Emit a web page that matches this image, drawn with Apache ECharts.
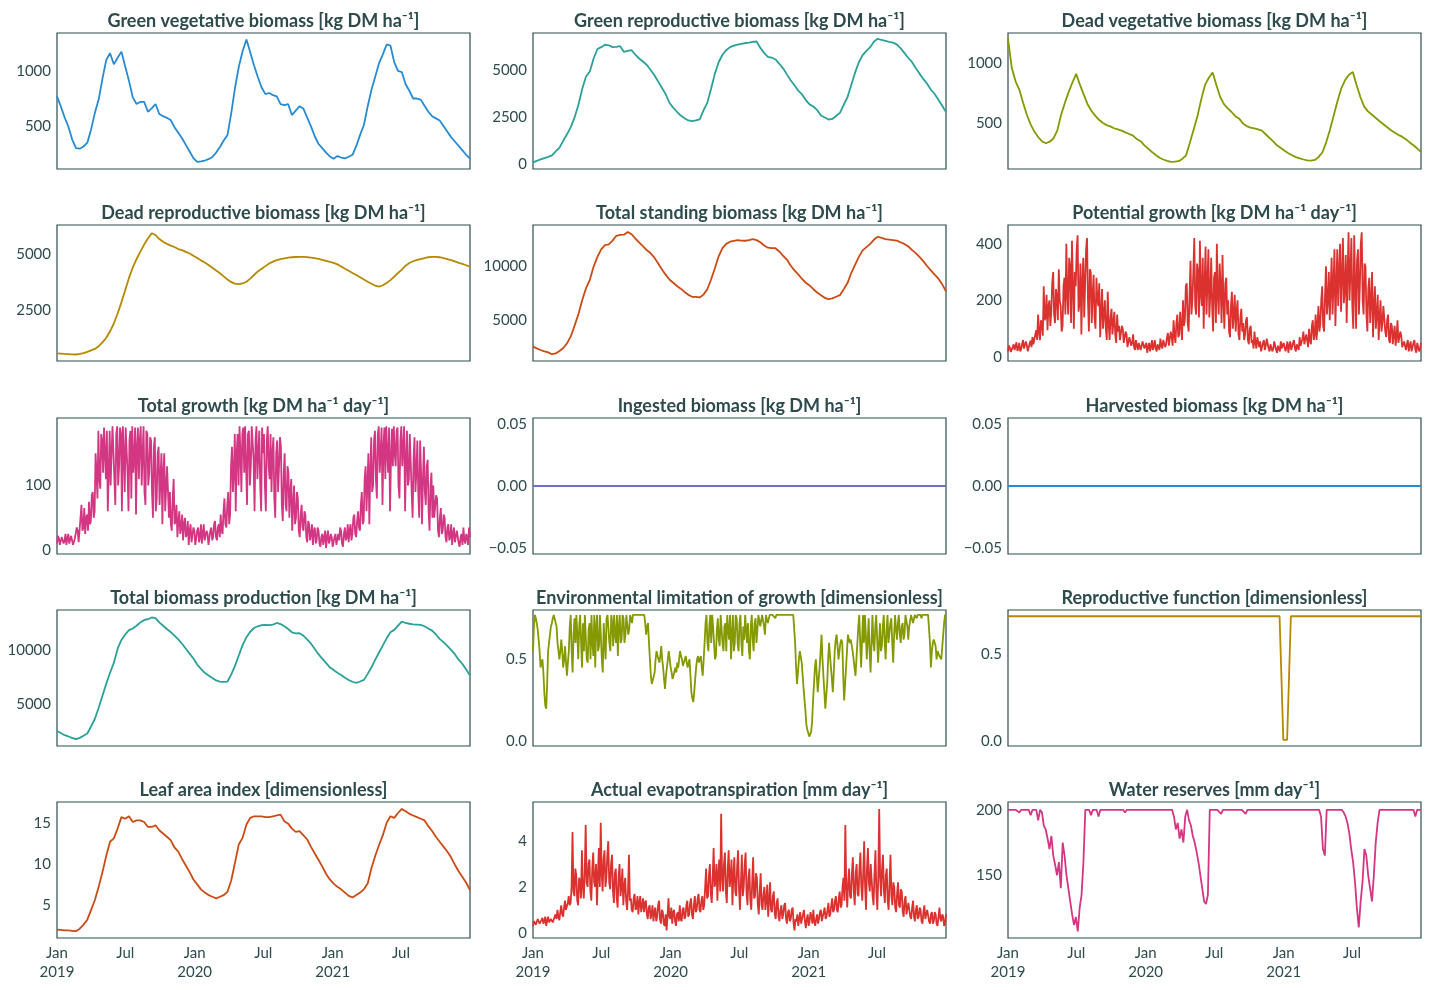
<!DOCTYPE html>
<html>
<head>
<meta charset="utf-8">
<title>Grassland model outputs 2019-2021</title>
<script src="https://cdn.jsdelivr.net/npm/echarts@6/dist/echarts.min.js"></script>
<style>
  html, body { margin: 0; padding: 0; background: #fff; }
  #chart { width: 1430px; height: 990px; }
</style>
</head>
<body>
<div id="chart"></div>
<script>
// daily model output at roughly 10-day (smooth), 5-day or 2.5-day (noisy) steps
// every array runs from 2019-01-01 to 2021-12-31, evenly spaced
var greenVeg = [
  770, 680, 580, 495, 380, 300, 295, 315, 350, 470,
  620, 740, 930, 1100, 1160, 1060, 1120, 1175, 1040, 910,
  760, 700, 720, 720, 630, 660, 700, 610, 590, 575,
  555, 490, 440, 390, 330, 270, 210, 175, 180, 188,
  200, 220, 260, 310, 370, 420, 620, 850, 1040, 1180,
  1285, 1170, 1050, 945, 850, 790, 800, 780, 770, 700,
  690, 700, 600, 640, 680, 660, 580, 500, 410, 340,
  300, 260, 225, 205, 228, 215, 207, 222, 240, 320,
  420, 510, 680, 830, 950, 1070, 1150, 1240, 1230, 1080,
  1000, 990, 880, 820, 750, 750, 740, 685, 630, 590,
  570, 550, 500, 450, 400, 360, 320, 280, 240, 205
];
var greenRepro = [
  100, 180, 260, 330, 390, 470, 680, 880, 1250, 1600,
  1980, 2500, 3150, 4000, 4650, 4910, 5600, 6100, 6200, 6330,
  6300, 6200, 6220, 6250, 5950, 6000, 6040, 5800, 5600, 5440,
  5270, 5000, 4730, 4400, 4050, 3720, 3260, 3000, 2780, 2580,
  2440, 2320, 2290, 2330, 2380, 2850, 3250, 4000, 4800, 5400,
  5800, 6040, 6200, 6280, 6340, 6370, 6420, 6440, 6480, 6500,
  6160, 5900, 5680, 5650, 5550, 5320, 5080, 4760, 4450, 4180,
  3900, 3700, 3400, 3170, 3060, 2870, 2580, 2480, 2370, 2400,
  2560, 2720, 3150, 3550, 4200, 4850, 5400, 5780, 6000, 6200,
  6500, 6640, 6580, 6530, 6480, 6440, 6350, 6150, 5900, 5640,
  5420, 5100, 4800, 4520, 4260, 3960, 3720, 3420, 3100, 2760
];
var deadVeg = [
  1206, 960, 850, 780, 670, 570, 490, 430, 385, 350,
  335, 348, 375, 440, 570, 670, 760, 840, 912, 820,
  740, 660, 605, 565, 530, 505, 486, 475, 460, 450,
  440, 425, 412, 398, 370, 352, 318, 290, 262, 238,
  215, 200, 188, 181, 182, 186, 205, 235, 340, 450,
  560, 700, 820, 880, 923, 820, 720, 660, 625, 595,
  560, 540, 500, 478, 465, 458, 450, 440, 410, 380,
  350, 318, 295, 272, 252, 235, 220, 210, 200, 192,
  190, 196, 222, 260, 345, 450, 570, 690, 794, 862,
  905, 928, 820, 720, 640, 600, 574, 547, 520, 495,
  470, 445, 425, 405, 390, 368, 342, 318, 292, 262
];
var deadRepro = [
  560, 545, 530, 520, 510, 505, 530, 570, 620, 690,
  755, 880, 1050, 1260, 1550, 1900, 2350, 2850, 3400, 3950,
  4420, 4800, 5130, 5450, 5720, 5960, 5880, 5700, 5580, 5480,
  5400, 5340, 5250, 5200, 5120, 5050, 4950, 4850, 4740, 4640,
  4530, 4410, 4280, 4160, 4020, 3880, 3760, 3690, 3670, 3700,
  3780, 3920, 4080, 4240, 4360, 4480, 4600, 4680, 4750, 4800,
  4830, 4860, 4880, 4890, 4896, 4895, 4885, 4865, 4840, 4810,
  4760, 4720, 4670, 4630, 4560, 4460, 4360, 4270, 4170, 4080,
  3980, 3880, 3780, 3690, 3600, 3560, 3620, 3720, 3850, 4010,
  4170, 4320, 4500, 4620, 4700, 4760, 4800, 4840, 4880, 4896,
  4895, 4880, 4840, 4800, 4750, 4690, 4630, 4580, 4520, 4460
];
var totalStanding = [
  2580, 2420, 2270, 2150, 2050, 1880, 1950, 2170, 2450, 2900,
  3550, 4550, 5600, 6900, 8000, 8770, 10000, 10900, 11600, 11990,
  12050, 12400, 12850, 12930, 12950, 13200, 13000, 12600, 12250, 11900,
  11530, 11250, 10850, 10300, 9750, 9250, 8800, 8500, 8200, 7950,
  7650, 7380, 7200, 7200, 7140, 7400, 7900, 8800, 9850, 10950,
  11700, 12100, 12300, 12380, 12450, 12400, 12390, 12450, 12550, 12450,
  12250, 11950, 11750, 11700, 11700, 11400, 11000, 10650, 10100, 9650,
  9270, 8850, 8500, 8250, 7900, 7600, 7350, 7100, 6990, 7050,
  7200, 7350, 7900, 8470, 9400, 10150, 10900, 11500, 11800, 12100,
  12500, 12760, 12650, 12550, 12500, 12450, 12400, 12250, 12100, 11880,
  11550, 11250, 10900, 10500, 10050, 9650, 9250, 8880, 8350, 7700
];
var potentialGrowth = [
  20, 40, 32, 18, 15, 35, 45, 25, 38, 52, 22, 30, 50, 20, 28, 45, 60, 30, 35, 55,
  42, 20, 25, 48, 58, 35, 70, 45, 40, 80, 95, 60, 150, 90, 60, 130, 120, 75, 250, 130,
  140, 220, 95, 180, 200, 110, 160, 260, 300, 150, 120, 240, 210, 130, 310, 200, 180, 90, 110, 250,
  280, 150, 400, 220, 150, 350, 320, 120, 410, 250, 100, 300, 250, 380, 430, 160, 190, 330, 80, 260,
  350, 140, 260, 380, 420, 200, 90, 310, 300, 120, 220, 290, 140, 100, 280, 200, 180, 260, 70, 160,
  240, 100, 150, 200, 100, 60, 230, 120, 60, 140, 170, 80, 120, 160, 80, 50, 150, 90, 110, 60,
  60, 110, 100, 50, 45, 90, 80, 35, 30, 70, 65, 40, 50, 80, 35, 25, 60, 40, 25, 50,
  45, 25, 20, 55, 55, 30, 30, 50, 15, 35, 50, 20, 35, 60, 25, 40, 60, 30, 20, 45,
  40, 25, 65, 40, 30, 60, 55, 35, 45, 70, 85, 40, 35, 90, 70, 40, 130, 75, 50, 120,
  150, 70, 80, 160, 110, 60, 200, 110, 130, 250, 260, 120, 90, 220, 340, 150, 200, 300, 420, 180,
  150, 330, 300, 140, 410, 220, 180, 350, 100, 260, 390, 150, 260, 380, 140, 220, 350, 180, 90, 280,
  300, 120, 400, 220, 150, 330, 250, 120, 360, 200, 100, 260, 280, 150, 200, 90, 70, 180, 230, 100,
  150, 220, 90, 160, 200, 80, 60, 140, 170, 90, 120, 60, 80, 130, 140, 60, 45, 100, 110, 50,
  60, 30, 90, 50, 30, 70, 75, 35, 55, 20, 25, 50, 60, 25, 40, 65, 70, 30, 20, 45,
  45, 20, 30, 55, 60, 25, 15, 40, 40, 20, 55, 30, 25, 50, 50, 20, 35, 55, 15, 40,
  55, 25, 30, 50, 60, 30, 20, 45, 45, 25, 70, 40, 35, 65, 90, 45, 50, 80, 60, 35,
  100, 60, 45, 110, 130, 60, 80, 150, 60, 110, 180, 90, 120, 200, 250, 110, 90, 220, 320, 150,
  200, 300, 130, 240, 350, 150, 260, 380, 110, 250, 380, 180, 300, 400, 160, 280, 420, 190, 240, 360,
  120, 300, 440, 200, 300, 420, 180, 100, 430, 260, 100, 340, 380, 150, 250, 400, 440, 200, 150, 330,
  320, 150, 90, 240, 280, 120, 200, 300, 70, 180, 250, 100, 150, 220, 60, 140, 200, 90, 120, 180,
  180, 90, 70, 130, 150, 60, 50, 120, 110, 45, 80, 110, 40, 70, 130, 50, 55, 90, 75, 35,
  30, 55, 60, 25, 45, 60, 20, 40, 55, 20, 35, 50, 60, 25, 15, 50, 45, 20, 30, 50
];
var totalGrowth = [
  10, 22, 18, 8, 6, 20, 22, 10, 14, 25, 8, 18, 25, 10, 12, 22, 20, 8, 6, 18,
  15, 35, 30, 12, 12, 50, 70, 30, 35, 65, 25, 50, 55, 30, 75, 40, 45, 85, 90, 50,
  60, 150, 120, 80, 185, 110, 95, 180, 170, 120, 190, 150, 110, 185, 60, 120, 185, 100, 150, 192,
  190, 110, 70, 180, 192, 100, 130, 190, 180, 60, 192, 150, 90, 190, 192, 120, 60, 170, 185, 80,
  192, 120, 140, 190, 55, 160, 190, 110, 170, 192, 100, 150, 192, 90, 70, 185, 180, 100, 120, 175,
  170, 90, 50, 160, 175, 60, 80, 150, 160, 70, 110, 150, 40, 120, 150, 60, 60, 130, 130, 50,
  90, 40, 30, 80, 110, 40, 45, 70, 20, 45, 60, 25, 35, 55, 15, 40, 50, 20, 25, 45,
  8, 30, 40, 12, 15, 35, 30, 8, 5, 30, 35, 12, 20, 40, 10, 25, 40, 15, 12, 30,
  25, 8, 10, 30, 35, 15, 20, 40, 45, 20, 15, 35, 40, 20, 55, 30, 25, 60, 80, 40,
  35, 70, 90, 40, 55, 130, 160, 90, 120, 180, 60, 150, 180, 100, 192, 150, 90, 180, 190, 120,
  192, 130, 70, 180, 185, 100, 130, 192, 192, 140, 60, 170, 192, 110, 150, 185, 100, 60, 190, 150,
  180, 100, 60, 170, 192, 130, 110, 180, 90, 150, 175, 80, 50, 150, 170, 90, 130, 175, 160, 70,
  45, 120, 150, 70, 60, 130, 120, 50, 90, 110, 30, 70, 100, 40, 50, 90, 80, 30, 20, 55,
  70, 35, 30, 60, 55, 20, 12, 45, 40, 15, 25, 40, 8, 30, 35, 10, 15, 35, 30, 10,
  5, 20, 25, 8, 10, 30, 3, 20, 30, 10, 15, 25, 20, 5, 2, 20, 25, 8, 8, 25,
  15, 35, 30, 10, 5, 25, 35, 15, 20, 40, 12, 30, 40, 15, 25, 50, 55, 25, 20, 45,
  60, 35, 30, 70, 90, 40, 45, 110, 130, 60, 60, 150, 40, 120, 175, 90, 100, 170, 185, 110,
  80, 180, 192, 120, 150, 190, 70, 160, 190, 110, 192, 150, 120, 190, 60, 140, 188, 130, 192, 150,
  130, 185, 190, 100, 80, 170, 192, 130, 160, 192, 60, 140, 185, 100, 110, 180, 180, 90, 50, 140,
  175, 90, 120, 170, 90, 50, 170, 120, 40, 110, 160, 90, 70, 130, 140, 60, 30, 100, 120, 50,
  100, 50, 50, 85, 80, 30, 20, 50, 65, 25, 30, 55, 50, 20, 12, 35, 40, 15, 20, 40,
  8, 25, 35, 12, 12, 30, 30, 10, 5, 20, 25, 8, 35, 15, 10, 25, 20, 8, 35, 20
];
var ingested = [0, 0, 0, 0, 0, 0, 0, 0, 0, 0, 0, 0, 0];
var harvested = [0, 0, 0, 0, 0, 0, 0, 0, 0, 0, 0, 0, 0];
var totalProduction = [
  2580, 2400, 2200, 2080, 1950, 1830, 1950, 2150, 2350, 3000,
  3700, 4700, 5800, 6900, 7900, 8800, 10100, 10900, 11400, 11800,
  11950, 12200, 12500, 12730, 12790, 12950, 12900, 12500, 12200, 11900,
  11620, 11300, 10950, 10550, 10100, 9650, 9200, 8650, 8250, 7900,
  7650, 7420, 7200, 7100, 7060, 7100, 7750, 8550, 9500, 10450,
  11150, 11650, 11990, 12150, 12250, 12270, 12250, 12300, 12450, 12350,
  12150, 11900, 11600, 11500, 11520, 11300, 10950, 10580, 10100, 9600,
  9200, 8800, 8400, 8150, 7900, 7700, 7450, 7230, 7080, 6970,
  7100, 7250, 7800, 8400, 9100, 9750, 10400, 11050, 11600, 11820,
  12200, 12580, 12450, 12380, 12320, 12300, 12280, 12150, 11950, 11750,
  11400, 11000, 10700, 10350, 10000, 9600, 9100, 8700, 8200, 7650
];
var envLimitation = [
  0.55, 0.7, 0.77, 0.75, 0.72, 0.68, 0.62, 0.55, 0.45, 0.48, 0.5, 0.42, 0.3, 0.22, 0.2, 0.35, 0.55, 0.6, 0.65, 0.7,
  0.72, 0.75, 0.77, 0.77, 0.77, 0.7, 0.6, 0.55, 0.5, 0.55, 0.62, 0.55, 0.45, 0.5, 0.58, 0.48, 0.4, 0.48, 0.55, 0.7,
  0.77, 0.55, 0.42, 0.65, 0.75, 0.6, 0.77, 0.65, 0.5, 0.7, 0.77, 0.6, 0.45, 0.72, 0.55, 0.77, 0.77, 0.5, 0.48, 0.68,
  0.72, 0.5, 0.77, 0.6, 0.52, 0.77, 0.45, 0.7, 0.77, 0.55, 0.58, 0.77, 0.77, 0.5, 0.42, 0.72, 0.6, 0.5, 0.75, 0.77,
  0.77, 0.6, 0.55, 0.77, 0.72, 0.58, 0.77, 0.65, 0.6, 0.77, 0.52, 0.7, 0.77, 0.6, 0.62, 0.77, 0.75, 0.6, 0.65, 0.77,
  0.77, 0.65, 0.68, 0.77, 0.77, 0.72, 0.77, 0.77, 0.77, 0.77, 0.77, 0.77, 0.77, 0.77, 0.77, 0.77, 0.77, 0.77, 0.77, 0.72,
  0.65, 0.7, 0.72, 0.6, 0.5, 0.4, 0.35, 0.36, 0.35, 0.42, 0.5, 0.55, 0.55, 0.5, 0.48, 0.52, 0.58, 0.5, 0.45, 0.38,
  0.32, 0.4, 0.45, 0.5, 0.55, 0.5, 0.45, 0.42, 0.38, 0.4, 0.4, 0.45, 0.42, 0.48, 0.45, 0.5, 0.55, 0.52, 0.5, 0.46,
  0.45, 0.5, 0.52, 0.48, 0.45, 0.48, 0.5, 0.4, 0.3, 0.26, 0.24, 0.3, 0.38, 0.45, 0.5, 0.52, 0.48, 0.5, 0.52, 0.45,
  0.4, 0.5, 0.6, 0.72, 0.77, 0.6, 0.55, 0.7, 0.77, 0.6, 0.77, 0.7, 0.6, 0.5, 0.52, 0.68, 0.75, 0.62, 0.58, 0.77,
  0.77, 0.6, 0.55, 0.7, 0.72, 0.55, 0.77, 0.68, 0.62, 0.77, 0.5, 0.65, 0.77, 0.55, 0.6, 0.77, 0.75, 0.6, 0.55, 0.72,
  0.77, 0.6, 0.52, 0.7, 0.62, 0.77, 0.77, 0.6, 0.72, 0.55, 0.5, 0.7, 0.77, 0.62, 0.55, 0.72, 0.75, 0.6, 0.68, 0.77,
  0.77, 0.7, 0.7, 0.77, 0.77, 0.7, 0.65, 0.77, 0.77, 0.72, 0.72, 0.77, 0.77, 0.77, 0.77, 0.77, 0.77, 0.75, 0.77, 0.77,
  0.77, 0.77, 0.77, 0.77, 0.77, 0.77, 0.77, 0.77, 0.77, 0.77, 0.77, 0.77, 0.77, 0.77, 0.77, 0.77, 0.77, 0.77, 0.6, 0.45,
  0.35, 0.42, 0.5, 0.55, 0.55, 0.48, 0.4, 0.32, 0.25, 0.18, 0.1, 0.07, 0.05, 0.03, 0.02, 0.06, 0.12, 0.25, 0.35, 0.45,
  0.5, 0.4, 0.3, 0.38, 0.45, 0.55, 0.65, 0.5, 0.4, 0.3, 0.2, 0.28, 0.35, 0.5, 0.6, 0.52, 0.45, 0.38, 0.3, 0.42,
  0.55, 0.62, 0.65, 0.58, 0.5, 0.55, 0.6, 0.62, 0.6, 0.4, 0.25, 0.35, 0.45, 0.55, 0.65, 0.62, 0.6, 0.62, 0.62, 0.55,
  0.5, 0.45, 0.4, 0.5, 0.6, 0.7, 0.77, 0.6, 0.45, 0.62, 0.77, 0.6, 0.77, 0.65, 0.5, 0.62, 0.75, 0.55, 0.42, 0.6,
  0.77, 0.6, 0.55, 0.7, 0.77, 0.62, 0.48, 0.6, 0.72, 0.55, 0.58, 0.7, 0.77, 0.6, 0.5, 0.68, 0.77, 0.6, 0.6, 0.72,
  0.75, 0.6, 0.48, 0.65, 0.77, 0.68, 0.62, 0.72, 0.77, 0.65, 0.6, 0.7, 0.72, 0.62, 0.65, 0.77, 0.77, 0.7, 0.62, 0.7,
  0.7, 0.77, 0.77, 0.72, 0.72, 0.77, 0.77, 0.75, 0.77, 0.77, 0.77, 0.77, 0.75, 0.77, 0.77, 0.77, 0.77, 0.77, 0.77, 0.77,
  0.77, 0.6, 0.45, 0.55, 0.6, 0.62, 0.62, 0.58, 0.5, 0.55, 0.55, 0.52, 0.52, 0.5, 0.5, 0.5, 0.72, 0.77, 0.77
];
var reproFunction = [
  0.72, 0.72, 0.72, 0.72, 0.72, 0.72, 0.72, 0.72, 0.72, 0.72,
  0.72, 0.72, 0.72, 0.72, 0.72, 0.72, 0.72, 0.72, 0.72, 0.72,
  0.72, 0.72, 0.72, 0.72, 0.72, 0.72, 0.72, 0.72, 0.72, 0.72,
  0.72, 0.72, 0.72, 0.72, 0.72, 0.72, 0.72, 0.72, 0.72, 0.72,
  0.72, 0.72, 0.72, 0.72, 0.72, 0.72, 0.72, 0.72, 0.72, 0.72,
  0.72, 0.72, 0.72, 0.72, 0.72, 0.72, 0.72, 0.72, 0.72, 0.72,
  0.72, 0.72, 0.72, 0.72, 0.72, 0.72, 0.72, 0.72, 0.72, 0.72,
  0.72, 0.72, 0.72, 0.72, 0.72, 0.72, 0.72, 0.72, 0.72, 0.72,
  0.72, 0.72, 0.72, 0.72, 0.72, 0.72, 0.72, 0.72, 0.72, 0.72,
  0.72, 0.72, 0.72, 0.72, 0.72, 0.72, 0.72, 0.72, 0.72, 0.72,
  0.72, 0.72, 0.72, 0.72, 0.72, 0.72, 0.72, 0.72, 0.72, 0.72,
  0.72, 0.72, 0.72, 0.72, 0.72, 0.72, 0.72, 0.72, 0.72, 0.72,
  0.72, 0.72, 0.72, 0.72, 0.72, 0.72, 0.72, 0.72, 0.72, 0.72,
  0.72, 0.72, 0.72, 0.72, 0.72, 0.72, 0.72, 0.72, 0.72, 0.72,
  0.72, 0.72, 0.72, 0.72, 0.72, 0.72, 0.01, 0.01, 0.01, 0.01,
  0.72, 0.72, 0.72, 0.72, 0.72, 0.72, 0.72, 0.72, 0.72, 0.72,
  0.72, 0.72, 0.72, 0.72, 0.72, 0.72, 0.72, 0.72, 0.72, 0.72,
  0.72, 0.72, 0.72, 0.72, 0.72, 0.72, 0.72, 0.72, 0.72, 0.72,
  0.72, 0.72, 0.72, 0.72, 0.72, 0.72, 0.72, 0.72, 0.72, 0.72,
  0.72, 0.72, 0.72, 0.72, 0.72, 0.72, 0.72, 0.72, 0.72, 0.72,
  0.72, 0.72, 0.72, 0.72, 0.72, 0.72, 0.72, 0.72, 0.72, 0.72,
  0.72, 0.72, 0.72, 0.72, 0.72, 0.72, 0.72, 0.72, 0.72, 0.72
];
var leafArea = [
  2.0, 1.95, 1.9, 1.9, 1.85, 1.8, 2.1, 2.6, 3.2, 4.4,
  5.6, 7.2, 9.0, 11.0, 12.7, 13.1, 14.3, 15.7, 15.5, 15.8,
  15.1, 15.3, 15.3, 15.1, 14.5, 14.5, 14.7, 14.1, 13.7, 13.3,
  12.9, 12.0, 11.5, 10.6, 9.8, 9.0, 8.1, 7.5, 6.9, 6.5,
  6.2, 6.0, 5.8, 6.0, 6.2, 6.6, 8.0, 10.2, 12.4, 13.2,
  14.8, 15.6, 15.8, 15.8, 15.8, 15.7, 15.7, 15.8, 15.9, 16.0,
  15.2, 14.9, 14.3, 13.9, 14.0, 13.5, 13.0, 12.1, 11.3, 10.5,
  9.7, 8.8, 8.1, 7.6, 7.2, 6.9, 6.5, 6.1, 5.9, 6.2,
  6.5, 6.9, 7.6, 9.5, 11.0, 12.3, 13.5, 15.0, 15.8, 15.6,
  16.2, 16.7, 16.4, 16.1, 15.9, 15.7, 15.5, 15.3, 14.6, 14.0,
  13.3, 12.7, 12.1, 11.5, 10.8, 9.9, 9.1, 8.4, 7.7, 6.8
];
var evapotranspiration = [
  0.3, 0.5, 0.55, 0.35, 0.4, 0.6, 0.6, 0.4, 0.35, 0.55, 0.65, 0.4, 0.5, 0.7, 0.3, 0.5, 0.7, 0.45, 0.45, 0.6,
  0.6, 0.45, 0.4, 0.7, 0.8, 0.6, 1.0, 0.7, 0.55, 0.9, 1.2, 0.8, 0.7, 1.1, 1.4, 1.0, 1.0, 1.3, 1.6, 1.2,
  1.3, 2.0, 4.4, 1.8, 1.6, 2.8, 2.5, 1.4, 1.2, 2.4, 2.2, 1.5, 3.6, 2.0, 1.5, 2.6, 4.7, 2.2, 2.0, 3.0,
  3.2, 1.8, 1.4, 2.8, 3.5, 2.2, 2.0, 3.0, 1.2, 2.5, 3.7, 2.0, 4.8, 2.6, 1.8, 3.2, 3.6, 2.0, 2.4, 3.4,
  4.0, 2.2, 1.9, 3.0, 3.4, 1.8, 1.3, 2.6, 2.8, 1.5, 1.1, 2.5, 3.0, 1.6, 2.0, 2.8, 1.2, 2.0, 2.4, 1.4,
  1.0, 1.8, 3.4, 1.4, 1.5, 1.0, 0.9, 1.5, 1.7, 1.0, 1.1, 1.6, 0.8, 1.3, 1.6, 0.9, 1.2, 1.5, 0.9, 1.3,
  1.4, 0.8, 0.6, 1.1, 1.2, 0.6, 0.8, 1.2, 0.5, 0.9, 1.1, 0.5, 0.7, 1.2, 1.4, 0.6, 0.4, 1.0, 0.9, 0.4,
  0.3, 0.8, 0.1, 0.7, 1.5, 0.7, 0.6, 1.1, 0.4, 0.9, 1.0, 0.5, 0.3, 0.8, 0.9, 0.5, 1.2, 0.6, 0.5, 1.0,
  1.1, 0.6, 0.7, 1.2, 1.4, 0.7, 0.8, 1.3, 1.5, 0.8, 0.6, 1.2, 1.6, 0.9, 1.0, 1.5, 1.7, 1.0, 0.9, 1.4,
  1.6, 1.0, 1.2, 2.0, 2.8, 1.5, 1.6, 2.5, 3.0, 1.7, 1.3, 2.4, 3.7, 2.0, 2.2, 3.0, 1.4, 2.6, 3.2, 1.8,
  5.2, 2.4, 1.8, 3.0, 3.5, 1.8, 1.3, 2.8, 3.6, 2.0, 2.4, 3.2, 1.2, 2.5, 3.3, 1.8, 1.6, 2.9, 3.6, 1.9,
  1.0, 2.2, 3.4, 1.6, 2.0, 3.0, 3.5, 1.7, 1.2, 2.4, 2.8, 1.4, 1.0, 2.2, 3.3, 1.5, 1.6, 2.6, 2.4, 1.2,
  0.8, 1.8, 2.6, 1.2, 1.0, 1.7, 2.0, 1.0, 1.4, 2.1, 0.7, 1.4, 2.2, 1.0, 0.9, 1.6, 1.8, 0.8, 0.6, 1.3,
  1.5, 0.7, 0.5, 1.0, 1.2, 0.6, 0.8, 1.2, 1.3, 0.6, 0.4, 0.9, 1.0, 0.5, 0.6, 1.0, 1.1, 0.4, 0.1, 0.6,
  0.5, 0.8, 0.3, 0.6, 0.9, 0.4, 0.4, 0.8, 1.0, 0.5, 0.2, 0.6, 0.8, 0.3, 0.5, 0.9, 0.7, 0.4, 1.0, 0.5,
  0.3, 0.6, 0.8, 0.4, 0.6, 0.9, 1.0, 0.5, 0.5, 0.9, 1.1, 0.6, 0.7, 1.0, 1.3, 0.7, 0.8, 1.2, 1.5, 0.9,
  1.0, 1.4, 1.6, 1.0, 0.9, 1.5, 1.8, 1.1, 1.2, 2.0, 2.4, 1.4, 4.7, 2.0, 1.1, 2.2, 2.8, 1.6, 1.5, 2.6,
  3.3, 1.8, 1.2, 2.6, 3.0, 1.7, 1.6, 2.8, 3.5, 2.0, 1.4, 2.6, 4.0, 2.0, 1.0, 2.8, 3.7, 2.2, 1.8, 3.0,
  3.0, 1.6, 1.2, 2.6, 3.6, 1.8, 1.0, 2.4, 5.4, 2.4, 1.6, 2.8, 3.4, 1.8, 1.3, 2.5, 2.8, 1.4, 1.0, 2.2,
  3.4, 1.6, 1.2, 2.2, 2.0, 1.1, 0.9, 1.7, 2.2, 1.2, 1.1, 1.9, 1.8, 0.9, 0.7, 1.4, 1.6, 0.8, 0.8, 1.3,
  1.3, 0.7, 0.6, 1.1, 1.4, 0.7, 0.5, 1.0, 1.2, 0.6, 0.7, 1.1, 1.0, 0.5, 0.4, 0.9, 1.2, 0.6, 0.6, 1.0,
  1.0, 0.5, 0.4, 0.8, 0.9, 0.4, 0.5, 0.9, 0.8, 0.4, 0.3, 0.7, 1.1, 0.6, 0.5, 0.8, 0.7, 0.3, 0.4, 0.8
];
var waterReserves = [
  200, 200, 200, 199, 200, 200, 198, 200, 200, 200,
  200, 200, 196, 200, 200, 200, 192, 200, 198, 188,
  185, 178, 170, 180, 165, 158, 150, 160, 140, 175,
  165, 150, 140, 130, 120, 112, 118, 107, 125, 135,
  160, 200, 200, 200, 196, 200, 200, 200, 195, 200,
  200, 200, 200, 200, 200, 200, 200, 200, 200, 200,
  200, 200, 198, 200, 200, 200, 200, 200, 200, 200,
  200, 200, 200, 200, 200, 200, 200, 200, 200, 200,
  200, 200, 200, 200, 200, 200, 200, 200, 195, 185,
  190, 178, 185, 175, 195, 200, 192, 188, 180, 175,
  168, 160, 150, 140, 130, 128, 135, 200, 200, 200,
  200, 200, 200, 197, 200, 200, 200, 200, 200, 200,
  200, 200, 200, 200, 200, 200, 197, 200, 200, 200,
  200, 200, 200, 200, 200, 200, 200, 200, 200, 200,
  200, 200, 200, 200, 200, 200, 200, 200, 200, 200,
  200, 200, 200, 200, 200, 200, 200, 200, 200, 200,
  200, 200, 200, 200, 200, 200, 195, 170, 165, 200,
  200, 200, 200, 200, 200, 200, 200, 200, 198, 195,
  190, 182, 170, 160, 145, 125, 110, 130, 145, 170,
  165, 150, 140, 130, 150, 175, 190, 200, 200, 200,
  200, 200, 200, 200, 200, 200, 200, 200, 200, 200,
  200, 200, 200, 200, 200, 200, 195, 200, 200, 200
];

// x axis: days since 2019-01-01
var totalDays = 1095;
var xTickDays = [0, 181, 365, 547, 731, 912];
var xTickLabels = ['Jan\n2019', 'Jul', 'Jan\n2020', 'Jul', 'Jan\n2021', 'Jul'];

// y tick values per panel
var greenVegTicks = [500, 1000];
var greenReproTicks = [0, 2500, 5000];
var deadVegTicks = [500, 1000];
var deadReproTicks = [2500, 5000];
var standingTicks = [5000, 10000];
var potentialTicks = [0, 200, 400];
var growthTicks = [0, 100];
var zeroTicks = [-0.05, 0, 0.05];
var productionTicks = [5000, 10000];
var fractionTicks = [0, 0.5];
var leafTicks = [5, 10, 15];
var etTicks = [0, 2, 4];
var waterTicks = [150, 200];

var ink = '#2d4b4d';
var sans = 'Lato, "DejaVu Sans", sans-serif';

var panels = [
  {title: 'Green vegetative biomass [kg DM ha⁻¹]', values: greenVeg, color: '#268bd2', min: 111, max: 1344, ticks: greenVegTicks, dec: 0},
  {title: 'Green reproductive biomass [kg DM ha⁻¹]', values: greenRepro, color: '#2aa198', min: -250, max: 6950, ticks: greenReproTicks, dec: 0},
  {title: 'Dead vegetative biomass [kg DM ha⁻¹]', values: deadVeg, color: '#859900', min: 121, max: 1252, ticks: deadVegTicks, dec: 0},
  {title: 'Dead reproductive biomass [kg DM ha⁻¹]', values: deadRepro, color: '#b58900', min: 213, max: 6330, ticks: deadReproTicks, dec: 0},
  {title: 'Total standing biomass [kg DM ha⁻¹]', values: totalStanding, color: '#cb4b16', min: 1250, max: 13850, ticks: standingTicks, dec: 0},
  {title: 'Potential growth [kg DM ha⁻¹ day⁻¹]', values: potentialGrowth, color: '#dc322f', min: -14, max: 466, ticks: potentialTicks, dec: 0},
  {title: 'Total growth [kg DM ha⁻¹ day⁻¹]', values: totalGrowth, color: '#d33682', min: -6.2, max: 204.8, ticks: growthTicks, dec: 0},
  {title: 'Ingested biomass [kg DM ha⁻¹]', values: ingested, color: '#6c71c4', min: -0.055, max: 0.055, ticks: zeroTicks, dec: 2},
  {title: 'Harvested biomass [kg DM ha⁻¹]', values: harvested, color: '#268bd2', min: -0.055, max: 0.055, ticks: zeroTicks, dec: 2},
  {title: 'Total biomass production [kg DM ha⁻¹]', values: totalProduction, color: '#2aa198', min: 1209, max: 13636, ticks: productionTicks, dec: 0},
  {title: 'Environmental limitation of growth [dimensionless]', values: envLimitation, color: '#859900', min: -0.027, max: 0.8, ticks: fractionTicks, dec: 1},
  {title: 'Reproductive function [dimensionless]', values: reproFunction, color: '#b58900', min: -0.025, max: 0.756, ticks: fractionTicks, dec: 1},
  {title: 'Leaf area index [dimensionless]', values: leafArea, color: '#cb4b16', min: 0.97, max: 17.54, ticks: leafTicks, dec: 0},
  {title: 'Actual evapotranspiration [mm day⁻¹]', values: evapotranspiration, color: '#dc322f', min: -0.23, max: 5.71, ticks: etTicks, dec: 0},
  {title: 'Water reserves [mm day⁻¹]', values: waterReserves, color: '#d33682', min: 102, max: 206, ticks: waterTicks, dec: 0}
];

var colLeft = [57, 533, 1008];
var rowTop = [33, 225, 418, 610, 802];
var plotW = 413, plotH = 136;

function toPoints(values) {
  var step = totalDays / (values.length - 1);
  return values.map(function (v, i) { return [i * step, v]; });
}

var grids = [], xAxes = [], yAxes = [], series = [], titles = [];

panels.forEach(function (p, k) {
  var col = k % 3, row = Math.floor(k / 3);
  grids.push({
    left: colLeft[col], top: rowTop[row], width: plotW, height: plotH,
    show: true, borderColor: ink, borderWidth: 1.2, backgroundColor: 'transparent'
  });
  xAxes.push({
    gridIndex: k, type: 'value', min: 0, max: totalDays,
    axisLine: {show: false}, axisTick: {show: false}, splitLine: {show: false},
    axisLabel: row === 4 ? {
      show: true, customValues: xTickDays, color: ink, fontSize: 15, fontFamily: sans,
      lineHeight: 19, margin: 6,
      formatter: function (v) { return xTickLabels[xTickDays.indexOf(v)]; }
    } : {show: false}
  });
  yAxes.push({
    gridIndex: k, type: 'value', min: p.min, max: p.max,
    axisLine: {show: false}, axisTick: {show: false}, splitLine: {show: false},
    axisLabel: {
      customValues: p.ticks, color: ink, fontSize: 15, fontFamily: sans, margin: 6,
      formatter: function (v) { return v.toFixed(p.dec).replace('-', '\u2212'); }
    }
  });
  series.push({
    type: 'line', xAxisIndex: k, yAxisIndex: k, data: toPoints(p.values),
    symbol: 'none', silent: true, clip: true,
    lineStyle: {color: p.color, width: 1.8}
  });
  titles.push({
    type: 'text', x: colLeft[col] + plotW / 2, y: rowTop[row] - 12,
    style: {
      text: p.title, fill: ink, font: 'bold 18px ' + sans,
      textAlign: 'center', textVerticalAlign: 'middle'
    }
  });
});

var myChart = echarts.init(document.getElementById('chart'));
myChart.setOption({
  animation: false,
  backgroundColor: '#fff',
  grid: grids,
  xAxis: xAxes,
  yAxis: yAxes,
  series: series,
  graphic: titles
});
</script>
</body>
</html>
